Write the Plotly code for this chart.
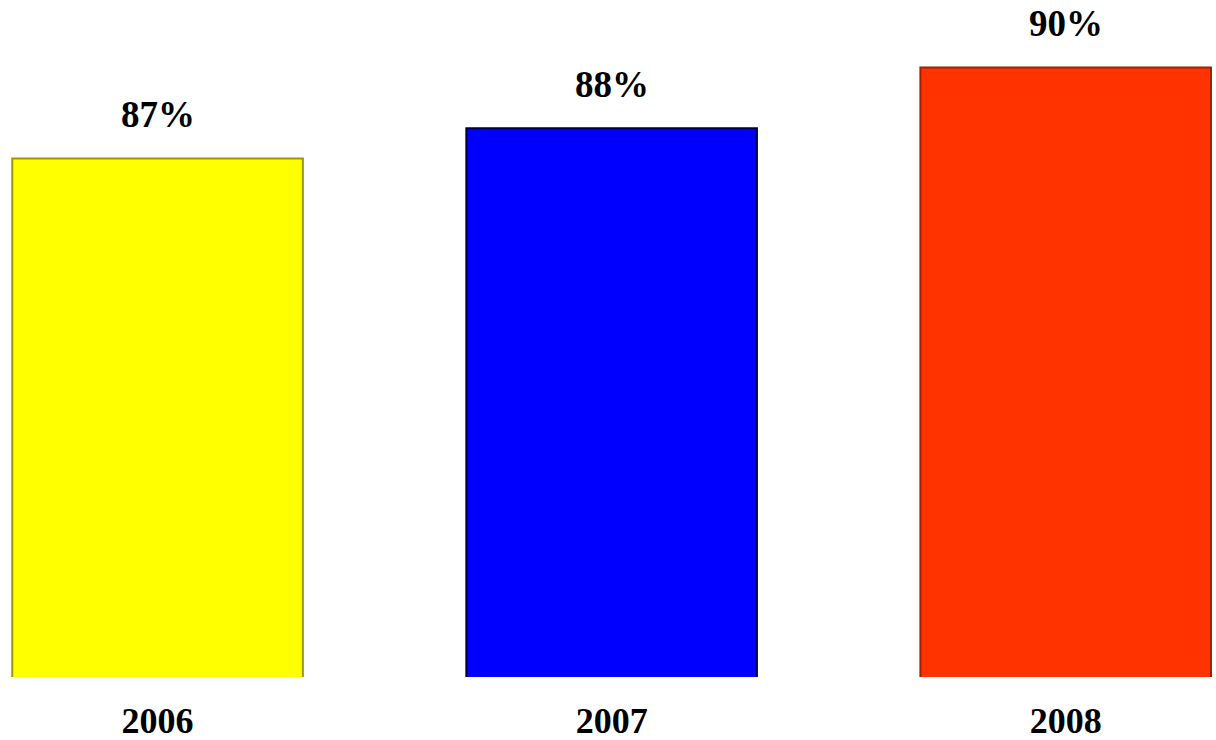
import plotly.graph_objects as go

years = ["2006", "2007", "2008"]
values = [87, 88, 90]
labels = ["87%", "88%", "90%"]
bar_colors = ["#FFFF00", "#0000FF", "#FF3300"]
edge_colors = ["#9a9a00", "#000040", "#a02000"]

font_family = "Liberation Serif, Times New Roman, serif"

fig = go.Figure()
fig.add_trace(go.Bar(
    x=years,
    y=values,
    marker=dict(color=bar_colors, line=dict(color=edge_colors, width=2)),
    hoverinfo="skip",
))

for i, (v, t) in enumerate(zip(values, labels)):
    fig.add_annotation(
        x=i, y=v, text="<b>%s</b>" % t, showarrow=False,
        xref="x", yref="y",
        yanchor="middle", yshift=44,
        font=dict(family=font_family, size=37, color="black"),
    )

fig.update_layout(
    width=1216, height=740,
    margin=dict(l=0, r=0, t=0, b=63),
    paper_bgcolor="white", plot_bgcolor="white",
    bargap=0.36,
    showlegend=False,
    xaxis=dict(
        type="category", range=[-0.347, 2.331],
        automargin=False,
        showgrid=False, zeroline=False, showline=False, ticks="",
        tickfont=dict(family=font_family, size=36, color="black"),
        ticklabelstandoff=19,
        tickprefix="<b>", ticksuffix="</b>",
    ),
    yaxis=dict(
        range=[69.88, 92.23],
        visible=False, showgrid=False, zeroline=False,
    ),
)

fig.write_html(
    "out.html",
    config={"displayModeBar": False},
    post_script="document.body.style.margin='0';document.body.style.overflow='hidden';",
)
